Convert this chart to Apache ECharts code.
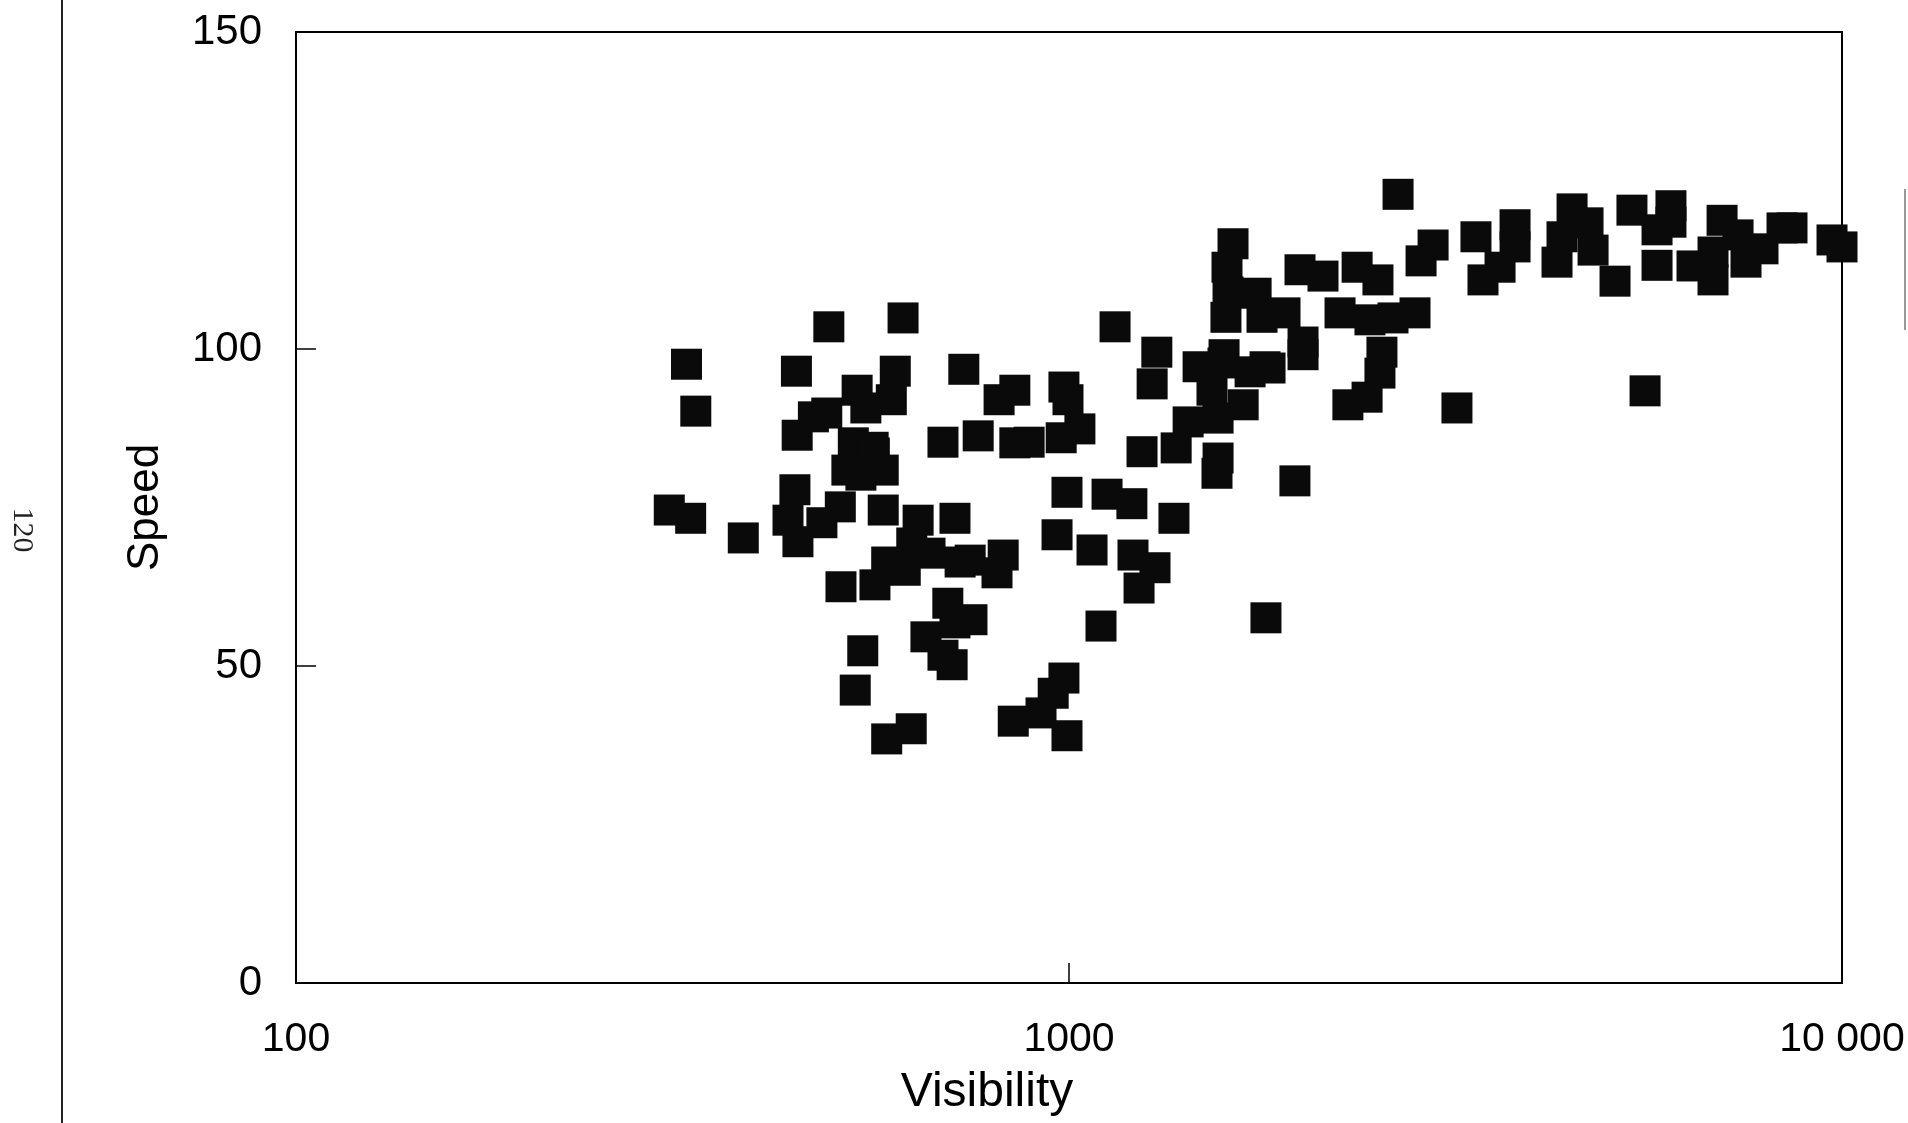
<!DOCTYPE html>
<html>
<head>
<meta charset="utf-8">
<title>Speed vs Visibility</title>
<script src="https://cdn.jsdelivr.net/npm/echarts@6/dist/echarts.min.js"></script>
<style>
  html, body { margin: 0; padding: 0; background: #fff; }
  #chart { width: 1908px; height: 1123px; }
</style>
</head>
<body>
<div id="chart"></div>
<script>
// values
const visibility = [
  304, 324, 320, 329, 379, 444, 489, 610, 596, 532,
  589, 486, 467, 445, 526, 558, 516, 575, 506, 442,
  433, 479, 446, 575, 638, 712, 626, 581, 661, 723,
  507, 561, 614, 697, 712, 653, 687, 706, 541, 529,
  625, 581, 687, 731, 763, 851, 812, 851, 888, 985,
  997, 1033, 977, 1147, 1299, 1281, 1469, 1587, 1715, 1793,
  1531, 1680, 1426, 1559, 1243, 1376, 1559, 1554, 994, 1120,
  1206, 1367, 965, 1071, 1210, 1292, 822, 745, 807, 749,
  1100, 1232, 1798, 985, 954, 920, 847, 994, 2665, 1630,
  1601, 1606, 1746, 1596, 1777, 1903, 2008, 2008, 1990, 2131,
  2359, 2510, 2958, 2854, 3361, 3776, 3776, 3611, 3432, 2242,
  2451, 2803, 2625, 2540, 2525, 2430, 2295, 3176, 1582, 1820,
  1960, 4475, 4693, 4343, 4279, 4764, 5086, 5349, 6008, 6008,
  5764, 5764, 6996, 7337, 6810, 6397, 6810, 7513, 7903, 8364,
  8616, 9707, 10000, 5562, 546, 560, 538
]
const speed = [
  74.6, 73.3, 97.6, 90.2, 70.2, 96.5, 103.5, 104.9, 96.5, 93.5,
  92.0, 89.9, 89.3, 86.4, 85.2, 84.5, 80.9, 80.9, 75.1, 77.8,
  73.0, 72.6, 69.6, 74.6, 73.0, 73.3, 69.4, 66.4, 67.8, 66.4,
  62.5, 62.8, 65.1, 59.9, 56.8, 54.6, 51.7, 50.2, 52.4, 46.2,
  40.1, 38.5, 85.3, 96.8, 86.3, 93.5, 92.0, 85.2, 85.3, 94.0,
  92.0, 87.4, 86.0, 103.5, 99.5, 94.5, 97.2, 99.1, 96.4, 97.2,
  93.5, 91.2, 88.5, 89.1, 83.8, 84.4, 82.8, 80.4, 77.4, 77.1,
  75.6, 73.3, 70.7, 68.3, 67.5, 65.5, 67.5, 66.7, 64.7, 57.3,
  56.3, 62.3, 57.6, 48.1, 45.7, 42.6, 41.3, 39.0, 124.4, 116.6,
  112.9, 109.0, 108.8, 105.0, 105.0, 105.7, 101.1, 99.1, 112.5, 111.5,
  112.9, 110.9, 116.4, 113.9, 117.7, 119.6, 116.1, 112.9, 110.9, 105.7,
  104.6, 105.7, 104.9, 99.5, 96.2, 92.4, 91.2, 90.7, 97.8, 97.0,
  79.2, 122.1, 119.9, 117.7, 113.7, 115.6, 110.7, 121.9, 122.6, 120.0,
  118.8, 113.2, 120.3, 118.0, 115.3, 113.1, 110.9, 113.7, 115.8, 119.1,
  119.1, 117.2, 116.1, 93.4, 90.7, 83.6, 80.1
]
const xTicks = [100, 1000, 10000]
const yTicks = [0, 50, 100, 150]

const points = visibility.map((v, i) => [v, speed[i]])

const chart = echarts.init(document.getElementById('chart'), null, { renderer: 'canvas' })

const option = {
  backgroundColor: '#fff',
  animation: false,
  grid: {
    show: true,
    left: 296,
    right: 66,
    top: 32,
    bottom: 140,
    borderColor: '#000',
    borderWidth: 2,
    backgroundColor: 'transparent'
  },
  xAxis: {
    type: 'log',
    logBase: 10,
    min: xTicks[0],
    max: xTicks[xTicks.length - 1],
    name: 'Visibility',
    nameLocation: 'middle',
    nameGap: 86,
    nameTextStyle: {
      fontFamily: 'Liberation Sans',
      fontSize: 48,
      color: '#000',
      padding: [0, 164, 0, 0]
    },
    axisLine: { show: true, lineStyle: { color: '#000', width: 2 } },
    axisTick: { show: true, inside: true, length: 20, lineStyle: { color: '#000', width: 1.5 } },
    minorTick: { show: false },
    splitLine: { show: false },
    axisLabel: {
      margin: 36,
      fontFamily: 'Liberation Sans',
      fontSize: 41,
      color: '#000',
      formatter: v => (v >= 10000 ? '10 000' : String(v))
    }
  },
  yAxis: {
    type: 'value',
    min: yTicks[0],
    max: yTicks[yTicks.length - 1],
    interval: 50,
    name: 'Speed',
    nameLocation: 'middle',
    nameGap: 128,
    nameTextStyle: {
      fontFamily: 'Liberation Sans',
      fontSize: 44,
      color: '#000'
    },
    axisLine: { show: true, lineStyle: { color: '#000', width: 2 } },
    axisTick: { show: true, inside: true, length: 20, lineStyle: { color: '#000', width: 1.5 } },
    splitLine: { show: false },
    axisLabel: {
      margin: 34,
      fontFamily: 'Liberation Sans',
      fontSize: 42,
      color: '#000'
    }
  },
  series: [
    {
      type: 'scatter',
      data: points,
      symbol: 'rect',
      symbolSize: 31,
      clip: false,
      itemStyle: { color: '#0a0a0a', opacity: 1 }
    }
  ],
  graphic: [
    // margin rule and page number of the scan
    {
      type: 'line',
      shape: { x1: 62, y1: 0, x2: 62, y2: 1123 },
      style: { stroke: '#222', lineWidth: 2 }
    },
    {
      type: 'line',
      shape: { x1: 1905, y1: 189, x2: 1905, y2: 330 },
      style: { stroke: '#999', lineWidth: 2 }
    },
    {
      type: 'text',
      x: 22,
      y: 530,
      rotation: -Math.PI / 2,
      style: {
        text: '120',
        font: '30px "Liberation Serif"',
        fill: '#222',
        align: 'center',
        verticalAlign: 'middle'
      }
    }
  ]
}

chart.setOption(option)
</script>
</body>
</html>
